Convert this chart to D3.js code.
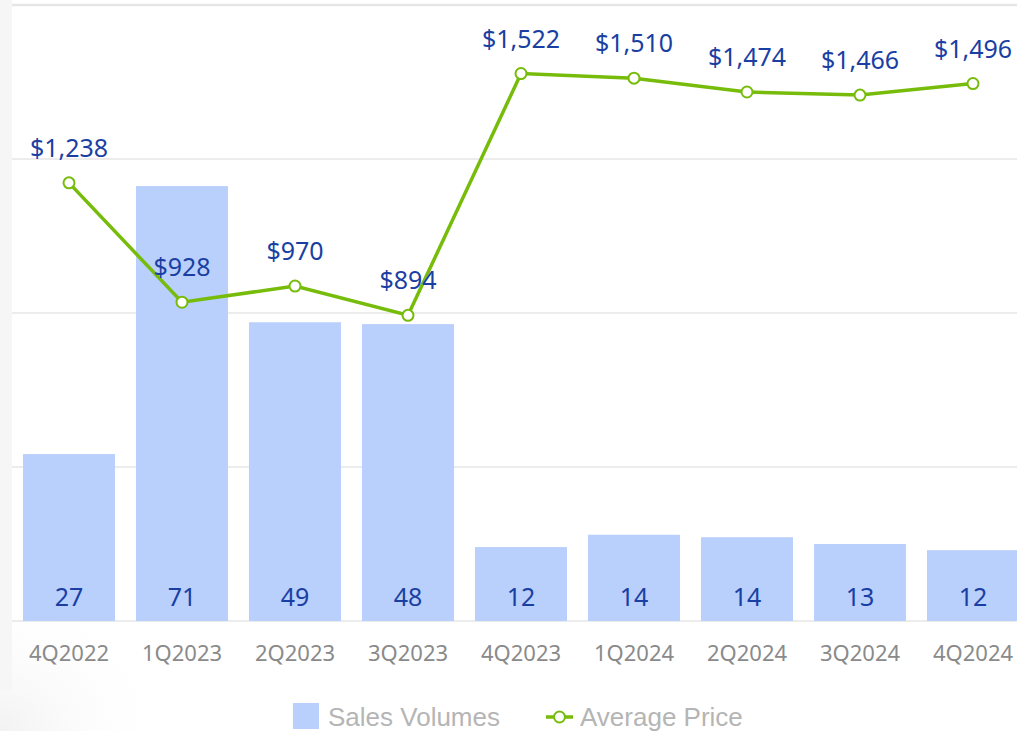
<!DOCTYPE html>
<html>
<head>
<meta charset="utf-8">
<script src="https://cdn.jsdelivr.net/npm/d3@7"></script>
<style>
  body { margin: 0; background: #fff; overflow: hidden; }
  svg { display: block; }
</style>
</head>
<body>
<div id="chart"></div>
<script>
// quarters, sales volumes (bar heights estimated) and average price
const quarters = ['4Q2022','1Q2023','2Q2023','3Q2023','4Q2023','1Q2024','2Q2024','3Q2024','4Q2024'];
const volumes = [27.1, 70.6, 48.5, 48.2, 12.0, 14.0, 13.6, 12.5, 11.5];
const prices = [1238, 928, 970, 894, 1522, 1510, 1474, 1466, 1496];
const gridTicks = [0, 25, 50, 75, 100];
const legendNames = ['Sales Volumes', 'Average Price'];

const W = 1017, H = 731;
const top_ = 5, base = 621;

const svg = d3.select('#chart').append('svg')
  .attr('width', W)
  .attr('height', H);

// faint shading on the left edge
const defs = svg.append('defs');
const grad = defs.append('radialGradient')
  .attr('id','shade').attr('cx','0').attr('cy','1').attr('r','1');
grad.append('stop').attr('offset','0%').attr('stop-color','#f2f2f2');
grad.append('stop').attr('offset','100%').attr('stop-color','#ffffff').attr('stop-opacity',0);
svg.append('rect').attr('x',0).attr('y',580).attr('width',170).attr('height',151).attr('fill','url(#shade)');
svg.append('rect').attr('x',0).attr('y',0).attr('width',12).attr('height',690).attr('fill','#f6f6f6');

const x = d3.scaleBand()
  .domain(quarters)
  .range([12.5, 1029.5])
  .paddingInner(0.186)
  .paddingOuter(0.093);

const yVol = d3.scaleLinear().domain([0, 100]).range([base, top_]);
const yPrice = d3.scaleLinear().domain([100, 1700]).range([base, top_]);

// grid
svg.append('g')
  .selectAll('line')
  .data(gridTicks)
  .enter().append('line')
  .attr('x1', 12).attr('x2', W)
  .attr('y1', d => yVol(d)).attr('y2', d => yVol(d))
  .attr('stroke', '#e6e6e6')
  .attr('stroke-width', d => d === 100 ? 2.5 : 1.5);

// bars
svg.append('g')
  .selectAll('rect')
  .data(volumes)
  .enter().append('rect')
  .attr('x', (d,i) => x(quarters[i]))
  .attr('width', x.bandwidth())
  .attr('y', d => yVol(d))
  .attr('height', d => base - yVol(d))
  .attr('fill', '#b9cffc');

svg.append('g')
  .selectAll('text')
  .data(volumes)
  .enter().append('text')
  .attr('x', (d,i) => x(quarters[i]) + x.bandwidth()/2)
  .attr('y', base - 15)
  .attr('text-anchor', 'middle')
  .style('font-family', 'Noto Sans')
  .style('font-size', '25px')
  .style('fill', '#1a3fa3')
  .text(d => Math.round(d));

// x axis labels
const xAxis = svg.append('g')
  .attr('transform', `translate(0,${base})`)
  .call(d3.axisBottom(x).tickSize(0).tickPadding(24));
xAxis.select('.domain').remove();
xAxis.selectAll('text')
  .style('font-family', 'Noto Sans')
  .style('font-size', '22px')
  .style('fill', '#8a8a8a');

// price line
const line = d3.line()
  .x((d,i) => x(quarters[i]) + x.bandwidth()/2)
  .y(d => yPrice(d));

svg.append('path')
  .datum(prices)
  .attr('d', line)
  .attr('fill', 'none')
  .attr('stroke', '#77bc0a')
  .attr('stroke-width', 3.5);

svg.append('g')
  .selectAll('circle')
  .data(prices)
  .enter().append('circle')
  .attr('cx', (d,i) => x(quarters[i]) + x.bandwidth()/2)
  .attr('cy', d => yPrice(d))
  .attr('r', 5.5)
  .attr('fill', '#fff')
  .attr('stroke', '#77bc0a')
  .attr('stroke-width', 2);

const fmt = d3.format('$,');
svg.append('g')
  .selectAll('text')
  .data(prices)
  .enter().append('text')
  .attr('x', (d,i) => x(quarters[i]) + x.bandwidth()/2)
  .attr('y', d => yPrice(d) - 26)
  .attr('text-anchor', 'middle')
  .style('font-family', 'Noto Sans')
  .style('font-size', '25px')
  .style('fill', '#1a3fa3')
  .text(d => fmt(d));

// legend
const lg = svg.append('g');
lg.append('rect')
  .attr('x', 293).attr('y', 703)
  .attr('width', 26).attr('height', 26)
  .attr('fill', '#b9cffc');
lg.append('text')
  .attr('x', 328).attr('y', 726)
  .style('font-family', 'Liberation Sans')
  .style('font-size', '26px')
  .style('fill', '#b5b5b5')
  .text(legendNames[0]);
lg.append('line')
  .attr('x1', 546).attr('x2', 573)
  .attr('y1', 717).attr('y2', 717)
  .attr('stroke', '#77bc0a').attr('stroke-width', 3.5);
lg.append('circle')
  .attr('cx', 559.5).attr('cy', 717).attr('r', 5.5)
  .attr('fill', '#fff').attr('stroke', '#77bc0a').attr('stroke-width', 2);
lg.append('text')
  .attr('x', 580).attr('y', 726)
  .style('font-family', 'Liberation Sans')
  .style('font-size', '26px')
  .style('fill', '#b5b5b5')
  .text(legendNames[1]);
</script>
</body>
</html>
